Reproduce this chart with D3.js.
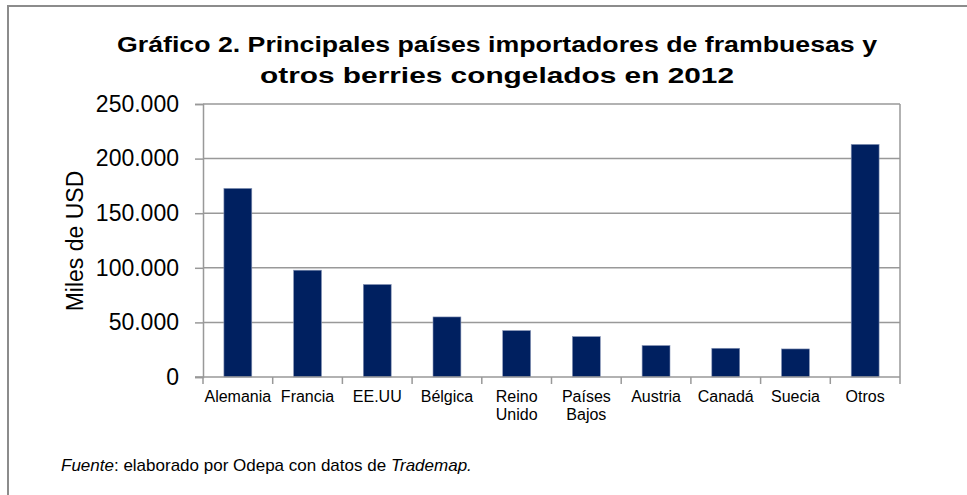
<!DOCTYPE html>
<html>
<head>
<meta charset="utf-8">
<script src="https://cdn.jsdelivr.net/npm/d3@7"></script>
<style>
  body { margin: 0; background: #fff; }
  svg { font-family: "Liberation Sans", Arial, sans-serif; }
</style>
</head>
<body>
<svg id="chart" width="967" height="495"></svg>
<script>
// chart data
const countries = ['Alemania', 'Francia', 'EE.UU', 'Bélgica', 'Reino Unido', 'Países Bajos', 'Austria', 'Canadá', 'Suecia', 'Otros'];
const values = [172700, 97800, 84700, 55000, 42500, 37000, 28800, 26300, 25700, 213000];
const yTicks = [0, 50000, 100000, 150000, 200000, 250000];
const titleLines = ['Gráfico 2. Principales países importadores de frambuesas y', 'otros berries congelados en 2012'];
const titleWidths = [760, 474]; // the title in the picture is stretched sideways

const svg = d3.select('#chart');

// outer frame (runs off the right and bottom edge)
svg.append('rect')
  .attr('x', 8).attr('y', 6)
  .attr('width', 1000).attr('height', 600)
  .attr('fill', 'none').attr('stroke', '#8c8c8c').attr('stroke-width', 2);

const margin = {left: 203, right: 967 - 900, top: 104, bottom: 495 - 377};
const width = 967 - margin.left - margin.right;
const height = 495 - margin.top - margin.bottom;

const g = svg.append('g').attr('transform', `translate(${margin.left},${margin.top})`);

const x = d3.scaleBand().domain(countries).range([0, width]).paddingInner(0.6).paddingOuter(0.3);
const y = d3.scaleLinear().domain([0, 250000]).range([height, 0]);

// number format with dot as thousands separator
const fmt = d3.formatLocale({decimal: ',', thousands: '.', grouping: [3], currency: ['', '']}).format(',');

// horizontal gridlines
g.selectAll('.grid')
  .data(yTicks.slice(1))
  .join('line')
  .attr('x1', 0).attr('x2', width)
  .attr('y1', d => y(d)).attr('y2', d => y(d))
  .attr('stroke', '#999').attr('stroke-width', 1.5);

// right border of plot
g.append('line')
  .attr('x1', width).attr('x2', width)
  .attr('y1', 0).attr('y2', height)
  .attr('stroke', '#999').attr('stroke-width', 1.5);

// bars
g.selectAll('.bar')
  .data(countries)
  .join('rect')
  .attr('x', d => x(d))
  .attr('y', (d, i) => y(values[i]))
  .attr('width', x.bandwidth())
  .attr('height', (d, i) => height - y(values[i]))
  .attr('fill', '#002060')
  .attr('stroke', '#8593b5').attr('stroke-width', 0.6);

// y axis
const yAxis = g.append('g')
  .call(d3.axisLeft(y).tickValues(yTicks).tickFormat(fmt).tickSize(8).tickPadding(16));
yAxis.select('.domain').attr('stroke', '#999').attr('stroke-width', 1.5);
yAxis.selectAll('.tick line').attr('stroke', '#999').attr('stroke-width', 1.5);
yAxis.selectAll('.tick text').attr('font-size', 23).attr('fill', '#000').attr('dy', '0.32em');

// x axis with ticks at the band boundaries
const xAxis = g.append('g').attr('transform', `translate(0,${height})`);
xAxis.append('line')
  .attr('x1', -8).attr('x2', width)
  .attr('stroke', '#999').attr('stroke-width', 1.5);
const step = x.step();
const x0 = x(countries[0]) - x.paddingOuter() * step;
xAxis.selectAll('.xtick')
  .data(d3.range(countries.length + 1))
  .join('line')
  .attr('x1', i => x0 + i * step).attr('x2', i => x0 + i * step)
  .attr('y1', 0).attr('y2', 7)
  .attr('stroke', '#999').attr('stroke-width', 1.5);

const xLabels = xAxis.selectAll('.xlabel')
  .data(countries)
  .join('text')
  .attr('x', d => x(d) + x.bandwidth() / 2)
  .attr('y', 25)
  .attr('text-anchor', 'middle')
  .attr('font-size', 16)
  .attr('fill', '#000');
xLabels.each(function (d) {
  const words = (d === 'Reino Unido' || d === 'Países Bajos') ? d.split(' ') : [d];
  const t = d3.select(this);
  words.forEach((w, i) => {
    t.append('tspan')
      .attr('x', x(d) + x.bandwidth() / 2)
      .attr('dy', i === 0 ? 0 : 18)
      .text(w);
  });
});

// y axis title
svg.append('text')
  .attr('transform', 'translate(83,241) rotate(-90)')
  .attr('text-anchor', 'middle')
  .attr('font-size', 23)
  .attr('fill', '#000')
  .text('Miles de USD');

// chart title
svg.selectAll('.title')
  .data(titleLines)
  .join('text')
  .attr('x', (d, i) => 497 - titleWidths[i] / 2)
  .attr('y', (d, i) => 52 + i * 31)
  .attr('textLength', (d, i) => titleWidths[i])
  .attr('lengthAdjust', 'spacingAndGlyphs')
  .attr('font-size', 22)
  .attr('font-weight', 'bold')
  .attr('fill', '#000')
  .text(d => d);

// source note
const note = svg.append('text')
  .attr('x', 61).attr('y', 471)
  .attr('font-size', 17)
  .attr('fill', '#000');
note.append('tspan').attr('font-style', 'italic').text('Fuente');
note.append('tspan').text(': elaborado por Odepa con datos de ');
note.append('tspan').attr('font-style', 'italic').text('Trademap.');
</script>
</body>
</html>
